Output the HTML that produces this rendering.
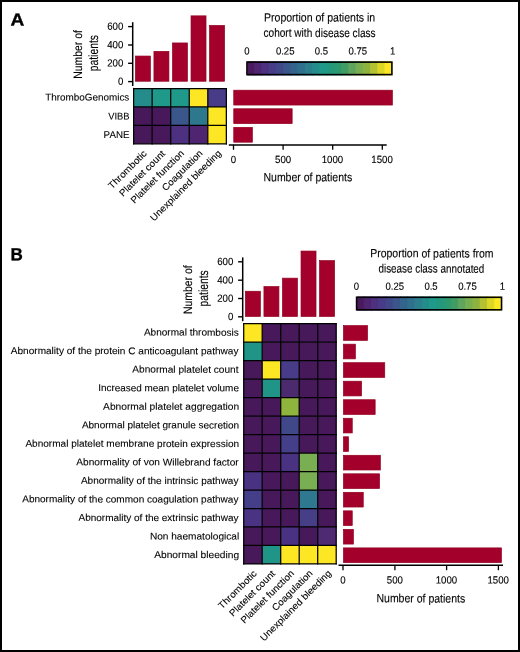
<!DOCTYPE html>
<html><head><meta charset="utf-8"><style>
html,body{margin:0;padding:0;background:#fff;}
body{width:520px;height:652px;overflow:hidden;}
.fig{position:relative;width:520px;height:652px;box-sizing:border-box;border:2px solid #000;background:#fff;}
svg{position:absolute;left:-2px;top:-2px;will-change:transform;}
text{text-rendering:geometricPrecision;font-family:"Liberation Sans",sans-serif;}
.lab{fill:#000;stroke:#000;stroke-width:0.1px;}
.num{fill:#000;stroke:#000;stroke-width:0.12px;}
.ttl{fill:#000;stroke:#000;stroke-width:0.12px;}
.pl{fill:#000;stroke:#000;stroke-width:0.35px;}
</style></head><body><div class="fig">
<svg width="520" height="652" viewBox="0 0 520 652">
<text transform="translate(10.42 25.4) rotate(0.1 6.88 0) scale(1.0855 1)" font-size="17.6" font-weight="bold" class="pl">A</text>
<text transform="translate(10.49 260.2) rotate(0.1 6.31 0) scale(0.9687 1)" font-size="17.6" font-weight="bold" class="pl">B</text>
<rect x="135.38" y="56.05" width="15" height="25.2" fill="#a3002c" stroke="#93001f" stroke-width="0.7"/>
<rect x="153.93" y="51.35" width="15" height="29.9" fill="#a3002c" stroke="#93001f" stroke-width="0.7"/>
<rect x="172.47" y="42.95" width="15" height="38.3" fill="#a3002c" stroke="#93001f" stroke-width="0.7"/>
<rect x="191.02" y="15.85" width="15" height="65.4" fill="#a3002c" stroke="#93001f" stroke-width="0.7"/>
<rect x="209.57" y="25.45" width="15" height="55.8" fill="#a3002c" stroke="#93001f" stroke-width="0.7"/>
<line x1="132.7" y1="22.2" x2="132.7" y2="86" stroke="#000" stroke-width="1.5"/>
<line x1="128.1" y1="26.6" x2="132.7" y2="26.6" stroke="#000" stroke-width="1.4"/>
<text transform="translate(107.23 29.85) rotate(0.1 8.12 0) scale(0.9300 1)" font-size="10.4" class="num">600</text>
<line x1="128.1" y1="45" x2="132.7" y2="45" stroke="#000" stroke-width="1.4"/>
<text transform="translate(107.23 48.25) rotate(0.1 7.98 0) scale(0.9300 1)" font-size="10.4" class="num">400</text>
<line x1="128.1" y1="63.3" x2="132.7" y2="63.3" stroke="#000" stroke-width="1.4"/>
<text transform="translate(107.23 66.55) rotate(0.1 8.12 0) scale(0.9300 1)" font-size="10.4" class="num">200</text>
<line x1="128.1" y1="81.6" x2="132.7" y2="81.6" stroke="#000" stroke-width="1.4"/>
<text transform="translate(117.97 84.85) rotate(0.1 2.71 0) scale(0.9300 1)" font-size="10.4" class="num">0</text>
<text transform="translate(82 77.9) rotate(-90) translate(-0.83 0) scale(0.8536 1)" font-size="12.2" class="ttl">Number of</text>
<text transform="translate(97.6 70.6) rotate(-90) translate(-0.67 0) scale(0.7715 1)" font-size="13.4" class="ttl">patients</text>
<rect x="133.6" y="88.5" width="18.55" height="18.43" fill="#248c8a"/>
<rect x="152.15" y="88.5" width="18.55" height="18.43" fill="#1f9a8a"/>
<rect x="170.7" y="88.5" width="18.55" height="18.43" fill="#1f9a8a"/>
<rect x="189.25" y="88.5" width="18.55" height="18.43" fill="#fde725"/>
<rect x="207.8" y="88.5" width="18.55" height="18.43" fill="#483c88"/>
<rect x="133.6" y="106.93" width="18.55" height="18.43" fill="#47195a"/>
<rect x="152.15" y="106.93" width="18.55" height="18.43" fill="#47195a"/>
<rect x="170.7" y="106.93" width="18.55" height="18.43" fill="#3a568b"/>
<rect x="189.25" y="106.93" width="18.55" height="18.43" fill="#2d788d"/>
<rect x="207.8" y="106.93" width="18.55" height="18.43" fill="#fde725"/>
<rect x="133.6" y="125.36" width="18.55" height="18.43" fill="#47195a"/>
<rect x="152.15" y="125.36" width="18.55" height="18.43" fill="#47195a"/>
<rect x="170.7" y="125.36" width="18.55" height="18.43" fill="#4e3080"/>
<rect x="189.25" y="125.36" width="18.55" height="18.43" fill="#4f2470"/>
<rect x="207.8" y="125.36" width="18.55" height="18.43" fill="#fde725"/>
<line x1="133.6" y1="87.88" x2="133.6" y2="144.41" stroke="#000" stroke-width="1.25"/>
<line x1="152.15" y1="87.88" x2="152.15" y2="144.41" stroke="#000" stroke-width="1.25"/>
<line x1="170.7" y1="87.88" x2="170.7" y2="144.41" stroke="#000" stroke-width="1.25"/>
<line x1="189.25" y1="87.88" x2="189.25" y2="144.41" stroke="#000" stroke-width="1.25"/>
<line x1="207.8" y1="87.88" x2="207.8" y2="144.41" stroke="#000" stroke-width="1.25"/>
<line x1="226.35" y1="87.88" x2="226.35" y2="144.41" stroke="#000" stroke-width="1.25"/>
<line x1="132.97" y1="88.5" x2="226.97" y2="88.5" stroke="#000" stroke-width="1.25"/>
<line x1="132.97" y1="106.93" x2="226.97" y2="106.93" stroke="#000" stroke-width="1.25"/>
<line x1="132.97" y1="125.36" x2="226.97" y2="125.36" stroke="#000" stroke-width="1.25"/>
<line x1="132.97" y1="143.79" x2="226.97" y2="143.79" stroke="#000" stroke-width="1.25"/>
<text transform="translate(45.2 100.5) rotate(0.1 42 0) scale(1.0095 1)" font-size="9.8" class="lab">ThromboGenomics</text>
<text transform="translate(108.15 119.4) rotate(0.1 10.45 0) scale(0.9561 1)" font-size="9.8" class="lab">VIBB</text>
<text transform="translate(103.62 138) rotate(0.1 13.08 0) scale(0.9941 1)" font-size="9.8" class="lab">PANE</text>
<text transform="translate(147.18 154.3) rotate(-45) translate(-49.63 0) scale(1.0500 1)" font-size="9.5" class="lab">Thrombotic</text>
<text transform="translate(165.73 154.3) rotate(-45) translate(-60.35 0) scale(1.0500 1)" font-size="9.5" class="lab">Platelet count</text>
<text transform="translate(184.28 154.3) rotate(-45) translate(-70.32 0) scale(1.0500 1)" font-size="9.5" class="lab">Platelet function</text>
<text transform="translate(202.82 154.3) rotate(-45) translate(-52.57 0) scale(1.0500 1)" font-size="9.5" class="lab">Coagulation</text>
<text transform="translate(221.38 154.3) rotate(-45) translate(-95.31 0) scale(1.0500 1)" font-size="9.5" class="lab">Unexplained bleeding</text>
<rect x="233.75" y="90.2" width="158.6" height="14.85" fill="#a3002c" stroke="#93001f" stroke-width="0.7"/>
<rect x="233.75" y="108.77" width="58.4" height="14.85" fill="#a3002c" stroke="#93001f" stroke-width="0.7"/>
<rect x="233.75" y="127.34" width="18.6" height="14.85" fill="#a3002c" stroke="#93001f" stroke-width="0.7"/>
<line x1="228.8" y1="144.95" x2="386.7" y2="144.95" stroke="#000" stroke-width="1.5"/>
<line x1="233.5" y1="144.9" x2="233.5" y2="149.8" stroke="#000" stroke-width="1.3"/>
<text transform="translate(230.79 162.95) rotate(0.1 2.71 0) scale(0.9300 1)" font-size="10.4" class="num">0</text>
<line x1="283.1" y1="144.9" x2="283.1" y2="149.8" stroke="#000" stroke-width="1.3"/>
<text transform="translate(275.02 162.95) rotate(0.1 8.08 0) scale(0.9300 1)" font-size="10.4" class="num">500</text>
<line x1="332.7" y1="144.9" x2="332.7" y2="149.8" stroke="#000" stroke-width="1.3"/>
<text transform="translate(321.75 162.95) rotate(0.1 10.95 0) scale(0.9300 1)" font-size="10.4" class="num">1000</text>
<line x1="382.3" y1="144.9" x2="382.3" y2="149.8" stroke="#000" stroke-width="1.3"/>
<text transform="translate(371.35 162.95) rotate(0.1 10.95 0) scale(0.9300 1)" font-size="10.4" class="num">1500</text>
<text transform="translate(263.46 181.3) rotate(0.1 44.59 0) scale(0.8748 1)" font-size="12" class="ttl">Number of patients</text>
<rect x="247.25" y="61.3" width="7.8" height="14.1" fill="#4b1a5e"/>
<rect x="254.05" y="61.3" width="8.25" height="14.1" fill="#4f2470"/>
<rect x="261.3" y="61.3" width="8.25" height="14.1" fill="#4e3080"/>
<rect x="268.55" y="61.3" width="8.25" height="14.1" fill="#483c88"/>
<rect x="275.8" y="61.3" width="8.25" height="14.1" fill="#41488a"/>
<rect x="283.05" y="61.3" width="8.25" height="14.1" fill="#3a568b"/>
<rect x="290.3" y="61.3" width="8.25" height="14.1" fill="#33648c"/>
<rect x="297.55" y="61.3" width="8.25" height="14.1" fill="#2e708e"/>
<rect x="304.8" y="61.3" width="8.25" height="14.1" fill="#2b7f8c"/>
<rect x="312.05" y="61.3" width="8.25" height="14.1" fill="#248c8a"/>
<rect x="319.3" y="61.3" width="8.25" height="14.1" fill="#1f9a8a"/>
<rect x="326.55" y="61.3" width="8.25" height="14.1" fill="#22997e"/>
<rect x="333.8" y="61.3" width="8.25" height="14.1" fill="#2b9a73"/>
<rect x="341.05" y="61.3" width="8.25" height="14.1" fill="#409c62"/>
<rect x="348.3" y="61.3" width="8.25" height="14.1" fill="#5fa55e"/>
<rect x="355.55" y="61.3" width="8.25" height="14.1" fill="#78ae52"/>
<rect x="362.8" y="61.3" width="8.25" height="14.1" fill="#8fb23e"/>
<rect x="370.05" y="61.3" width="8.25" height="14.1" fill="#b3c133"/>
<rect x="377.3" y="61.3" width="8.25" height="14.1" fill="#dcd625"/>
<rect x="384.55" y="61.3" width="7.05" height="14.1" fill="#fde725"/>
<rect x="246.95" y="62.1" width="144.95" height="12.5" fill="none" stroke="#000" stroke-width="1.6"/>
<text transform="translate(244.22 54.5) rotate(0.1 2.68 0) scale(0.9200 1)" font-size="10.4" class="num">0</text>
<text transform="translate(275.9 54.5) rotate(0.1 9.3 0) scale(0.9200 1)" font-size="10.4" class="num">0.25</text>
<text transform="translate(314.75 54.5) rotate(0.1 6.65 0) scale(0.9200 1)" font-size="10.4" class="num">0.5</text>
<text transform="translate(348.5 54.5) rotate(0.1 9.3 0) scale(0.9200 1)" font-size="10.4" class="num">0.75</text>
<text transform="translate(390 54.5) rotate(0.1 2.8 0) scale(0.9200 1)" font-size="10.4" class="num">1</text>
<text transform="translate(264.01 21.5) rotate(0.1 55.67 0) scale(0.8773 1)" font-size="12" class="ttl">Proportion of patients in</text>
<text transform="translate(263.5 36.9) rotate(0.1 56.05 0) scale(0.8401 1)" font-size="12" class="ttl">cohort with disease class</text>
<rect x="245.38" y="291.25" width="15" height="25.2" fill="#a3002c" stroke="#93001f" stroke-width="0.7"/>
<rect x="263.93" y="286.55" width="15" height="29.9" fill="#a3002c" stroke="#93001f" stroke-width="0.7"/>
<rect x="282.48" y="278.15" width="15" height="38.3" fill="#a3002c" stroke="#93001f" stroke-width="0.7"/>
<rect x="301.02" y="251.05" width="15" height="65.4" fill="#a3002c" stroke="#93001f" stroke-width="0.7"/>
<rect x="319.57" y="260.65" width="15" height="55.8" fill="#a3002c" stroke="#93001f" stroke-width="0.7"/>
<line x1="242.7" y1="257.4" x2="242.7" y2="321.2" stroke="#000" stroke-width="1.5"/>
<line x1="238.1" y1="261.8" x2="242.7" y2="261.8" stroke="#000" stroke-width="1.4"/>
<text transform="translate(217.23 265.05) rotate(0.1 8.12 0) scale(0.9300 1)" font-size="10.4" class="num">600</text>
<line x1="238.1" y1="280.2" x2="242.7" y2="280.2" stroke="#000" stroke-width="1.4"/>
<text transform="translate(217.23 283.45) rotate(0.1 7.98 0) scale(0.9300 1)" font-size="10.4" class="num">400</text>
<line x1="238.1" y1="298.5" x2="242.7" y2="298.5" stroke="#000" stroke-width="1.4"/>
<text transform="translate(217.23 301.75) rotate(0.1 8.12 0) scale(0.9300 1)" font-size="10.4" class="num">200</text>
<line x1="238.1" y1="316.8" x2="242.7" y2="316.8" stroke="#000" stroke-width="1.4"/>
<text transform="translate(227.97 320.05) rotate(0.1 2.71 0) scale(0.9300 1)" font-size="10.4" class="num">0</text>
<text transform="translate(192 313.1) rotate(-90) translate(-0.83 0) scale(0.8536 1)" font-size="12.2" class="ttl">Number of</text>
<text transform="translate(207.6 305.8) rotate(-90) translate(-0.67 0) scale(0.7715 1)" font-size="13.4" class="ttl">patients</text>
<rect x="243.7" y="323.7" width="18.5" height="18.48" fill="#fde725"/>
<rect x="262.2" y="323.7" width="18.5" height="18.48" fill="#47195a"/>
<rect x="280.7" y="323.7" width="18.5" height="18.48" fill="#47195a"/>
<rect x="299.2" y="323.7" width="18.5" height="18.48" fill="#47195a"/>
<rect x="317.7" y="323.7" width="18.5" height="18.48" fill="#47195a"/>
<rect x="243.7" y="342.18" width="18.5" height="18.48" fill="#1f9487"/>
<rect x="262.2" y="342.18" width="18.5" height="18.48" fill="#47195a"/>
<rect x="280.7" y="342.18" width="18.5" height="18.48" fill="#47195a"/>
<rect x="299.2" y="342.18" width="18.5" height="18.48" fill="#47195a"/>
<rect x="317.7" y="342.18" width="18.5" height="18.48" fill="#47195a"/>
<rect x="243.7" y="360.66" width="18.5" height="18.48" fill="#47195a"/>
<rect x="262.2" y="360.66" width="18.5" height="18.48" fill="#fde725"/>
<rect x="280.7" y="360.66" width="18.5" height="18.48" fill="#483c88"/>
<rect x="299.2" y="360.66" width="18.5" height="18.48" fill="#47195a"/>
<rect x="317.7" y="360.66" width="18.5" height="18.48" fill="#47195a"/>
<rect x="243.7" y="379.14" width="18.5" height="18.48" fill="#47195a"/>
<rect x="262.2" y="379.14" width="18.5" height="18.48" fill="#1f9487"/>
<rect x="280.7" y="379.14" width="18.5" height="18.48" fill="#4b2a6e"/>
<rect x="299.2" y="379.14" width="18.5" height="18.48" fill="#47195a"/>
<rect x="317.7" y="379.14" width="18.5" height="18.48" fill="#47195a"/>
<rect x="243.7" y="397.62" width="18.5" height="18.48" fill="#47195a"/>
<rect x="262.2" y="397.62" width="18.5" height="18.48" fill="#47195a"/>
<rect x="280.7" y="397.62" width="18.5" height="18.48" fill="#90b53e"/>
<rect x="299.2" y="397.62" width="18.5" height="18.48" fill="#47195a"/>
<rect x="317.7" y="397.62" width="18.5" height="18.48" fill="#47195a"/>
<rect x="243.7" y="416.1" width="18.5" height="18.48" fill="#47195a"/>
<rect x="262.2" y="416.1" width="18.5" height="18.48" fill="#47195a"/>
<rect x="280.7" y="416.1" width="18.5" height="18.48" fill="#41488a"/>
<rect x="299.2" y="416.1" width="18.5" height="18.48" fill="#47195a"/>
<rect x="317.7" y="416.1" width="18.5" height="18.48" fill="#47195a"/>
<rect x="243.7" y="434.58" width="18.5" height="18.48" fill="#47195a"/>
<rect x="262.2" y="434.58" width="18.5" height="18.48" fill="#47195a"/>
<rect x="280.7" y="434.58" width="18.5" height="18.48" fill="#453e88"/>
<rect x="299.2" y="434.58" width="18.5" height="18.48" fill="#47195a"/>
<rect x="317.7" y="434.58" width="18.5" height="18.48" fill="#47195a"/>
<rect x="243.7" y="453.06" width="18.5" height="18.48" fill="#47195a"/>
<rect x="262.2" y="453.06" width="18.5" height="18.48" fill="#47195a"/>
<rect x="280.7" y="453.06" width="18.5" height="18.48" fill="#4a3282"/>
<rect x="299.2" y="453.06" width="18.5" height="18.48" fill="#79af52"/>
<rect x="317.7" y="453.06" width="18.5" height="18.48" fill="#47195a"/>
<rect x="243.7" y="471.54" width="18.5" height="18.48" fill="#4a3282"/>
<rect x="262.2" y="471.54" width="18.5" height="18.48" fill="#47195a"/>
<rect x="280.7" y="471.54" width="18.5" height="18.48" fill="#47195a"/>
<rect x="299.2" y="471.54" width="18.5" height="18.48" fill="#79af52"/>
<rect x="317.7" y="471.54" width="18.5" height="18.48" fill="#47195a"/>
<rect x="243.7" y="490.02" width="18.5" height="18.48" fill="#453e88"/>
<rect x="262.2" y="490.02" width="18.5" height="18.48" fill="#47195a"/>
<rect x="280.7" y="490.02" width="18.5" height="18.48" fill="#47195a"/>
<rect x="299.2" y="490.02" width="18.5" height="18.48" fill="#2e7890"/>
<rect x="317.7" y="490.02" width="18.5" height="18.48" fill="#47195a"/>
<rect x="243.7" y="508.5" width="18.5" height="18.48" fill="#4b3384"/>
<rect x="262.2" y="508.5" width="18.5" height="18.48" fill="#47195a"/>
<rect x="280.7" y="508.5" width="18.5" height="18.48" fill="#47195a"/>
<rect x="299.2" y="508.5" width="18.5" height="18.48" fill="#473e88"/>
<rect x="317.7" y="508.5" width="18.5" height="18.48" fill="#47195a"/>
<rect x="243.7" y="526.98" width="18.5" height="18.48" fill="#47195a"/>
<rect x="262.2" y="526.98" width="18.5" height="18.48" fill="#47195a"/>
<rect x="280.7" y="526.98" width="18.5" height="18.48" fill="#4a3282"/>
<rect x="299.2" y="526.98" width="18.5" height="18.48" fill="#47195a"/>
<rect x="317.7" y="526.98" width="18.5" height="18.48" fill="#4d2a72"/>
<rect x="243.7" y="545.46" width="18.5" height="18.48" fill="#47195a"/>
<rect x="262.2" y="545.46" width="18.5" height="18.48" fill="#1f9487"/>
<rect x="280.7" y="545.46" width="18.5" height="18.48" fill="#fde725"/>
<rect x="299.2" y="545.46" width="18.5" height="18.48" fill="#fde725"/>
<rect x="317.7" y="545.46" width="18.5" height="18.48" fill="#fde725"/>
<line x1="243.7" y1="323.07" x2="243.7" y2="564.57" stroke="#000" stroke-width="1.25"/>
<line x1="262.2" y1="323.07" x2="262.2" y2="564.57" stroke="#000" stroke-width="1.25"/>
<line x1="280.7" y1="323.07" x2="280.7" y2="564.57" stroke="#000" stroke-width="1.25"/>
<line x1="299.2" y1="323.07" x2="299.2" y2="564.57" stroke="#000" stroke-width="1.25"/>
<line x1="317.7" y1="323.07" x2="317.7" y2="564.57" stroke="#000" stroke-width="1.25"/>
<line x1="336.2" y1="323.07" x2="336.2" y2="564.57" stroke="#000" stroke-width="1.25"/>
<line x1="243.07" y1="323.7" x2="336.82" y2="323.7" stroke="#000" stroke-width="1.25"/>
<line x1="243.07" y1="342.18" x2="336.82" y2="342.18" stroke="#000" stroke-width="1.25"/>
<line x1="243.07" y1="360.66" x2="336.82" y2="360.66" stroke="#000" stroke-width="1.25"/>
<line x1="243.07" y1="379.14" x2="336.82" y2="379.14" stroke="#000" stroke-width="1.25"/>
<line x1="243.07" y1="397.62" x2="336.82" y2="397.62" stroke="#000" stroke-width="1.25"/>
<line x1="243.07" y1="416.1" x2="336.82" y2="416.1" stroke="#000" stroke-width="1.25"/>
<line x1="243.07" y1="434.58" x2="336.82" y2="434.58" stroke="#000" stroke-width="1.25"/>
<line x1="243.07" y1="453.06" x2="336.82" y2="453.06" stroke="#000" stroke-width="1.25"/>
<line x1="243.07" y1="471.54" x2="336.82" y2="471.54" stroke="#000" stroke-width="1.25"/>
<line x1="243.07" y1="490.02" x2="336.82" y2="490.02" stroke="#000" stroke-width="1.25"/>
<line x1="243.07" y1="508.5" x2="336.82" y2="508.5" stroke="#000" stroke-width="1.25"/>
<line x1="243.07" y1="526.98" x2="336.82" y2="526.98" stroke="#000" stroke-width="1.25"/>
<line x1="243.07" y1="545.46" x2="336.82" y2="545.46" stroke="#000" stroke-width="1.25"/>
<line x1="243.07" y1="563.94" x2="336.82" y2="563.94" stroke="#000" stroke-width="1.25"/>
<text transform="translate(143.9 335.6) rotate(0.1 47.3 0) scale(1.0253 1)" font-size="9.8" class="lab">Abnormal thrombosis</text>
<text transform="translate(10.8 354.14) rotate(0.1 113.85 0) scale(1.0269 1)" font-size="9.8" class="lab">Abnormality of the protein C anticoagulant pathway</text>
<text transform="translate(132.3 372.68) rotate(0.1 53.1 0) scale(1.0321 1)" font-size="9.8" class="lab">Abnormal platelet count</text>
<text transform="translate(98.21 391.22) rotate(0.1 70.59 0) scale(1.0131 1)" font-size="9.8" class="lab">Increased mean platelet volume</text>
<text transform="translate(103.1 409.76) rotate(0.1 67.7 0) scale(1.0408 1)" font-size="9.8" class="lab">Abnormal platelet aggregation</text>
<text transform="translate(81.9 428.3) rotate(0.1 78.3 0) scale(1.0201 1)" font-size="9.8" class="lab">Abnormal platelet granule secretion</text>
<text transform="translate(25.4 446.84) rotate(0.1 106.55 0) scale(1.0245 1)" font-size="9.8" class="lab">Abnormal platelet membrane protein expression</text>
<text transform="translate(76.3 465.38) rotate(0.1 81.1 0) scale(1.0315 1)" font-size="9.8" class="lab">Abnormality of von Willebrand factor</text>
<text transform="translate(80.9 483.92) rotate(0.1 78.8 0) scale(1.0224 1)" font-size="9.8" class="lab">Abnormality of the intrinsic pathway</text>
<text transform="translate(22.2 502.46) rotate(0.1 108.15 0) scale(1.0232 1)" font-size="9.8" class="lab">Abnormality of the common coagulation pathway</text>
<text transform="translate(78.5 521) rotate(0.1 80 0) scale(1.0198 1)" font-size="9.8" class="lab">Abnormality of the extrinsic pathway</text>
<text transform="translate(149.89 539.54) rotate(0.1 44.71 0) scale(1.0310 1)" font-size="9.8" class="lab">Non haematological</text>
<text transform="translate(154.2 558.08) rotate(0.1 42.15 0) scale(1.0395 1)" font-size="9.8" class="lab">Abnormal bleeding</text>
<text transform="translate(257.18 574.3) rotate(-45) translate(-49.63 0) scale(1.0500 1)" font-size="9.5" class="lab">Thrombotic</text>
<text transform="translate(275.73 574.3) rotate(-45) translate(-60.35 0) scale(1.0500 1)" font-size="9.5" class="lab">Platelet count</text>
<text transform="translate(294.28 574.3) rotate(-45) translate(-70.32 0) scale(1.0500 1)" font-size="9.5" class="lab">Platelet function</text>
<text transform="translate(312.82 574.3) rotate(-45) translate(-52.57 0) scale(1.0500 1)" font-size="9.5" class="lab">Coagulation</text>
<text transform="translate(331.38 574.3) rotate(-45) translate(-95.31 0) scale(1.0500 1)" font-size="9.5" class="lab">Unexplained bleeding</text>
<rect x="343.45" y="325.65" width="24.1" height="14.7" fill="#a3002c" stroke="#93001f" stroke-width="0.7"/>
<rect x="343.45" y="344.17" width="11.9" height="14.7" fill="#a3002c" stroke="#93001f" stroke-width="0.7"/>
<rect x="343.45" y="362.69" width="41.3" height="14.7" fill="#a3002c" stroke="#93001f" stroke-width="0.7"/>
<rect x="343.45" y="381.21" width="18.1" height="14.7" fill="#a3002c" stroke="#93001f" stroke-width="0.7"/>
<rect x="343.45" y="399.73" width="31.7" height="14.7" fill="#a3002c" stroke="#93001f" stroke-width="0.7"/>
<rect x="343.45" y="418.25" width="8.8" height="14.7" fill="#a3002c" stroke="#93001f" stroke-width="0.7"/>
<rect x="343.45" y="436.77" width="5.1" height="14.7" fill="#a3002c" stroke="#93001f" stroke-width="0.7"/>
<rect x="343.45" y="455.29" width="36.9" height="14.7" fill="#a3002c" stroke="#93001f" stroke-width="0.7"/>
<rect x="343.45" y="473.81" width="36.1" height="14.7" fill="#a3002c" stroke="#93001f" stroke-width="0.7"/>
<rect x="343.45" y="492.33" width="19.8" height="14.7" fill="#a3002c" stroke="#93001f" stroke-width="0.7"/>
<rect x="343.45" y="510.85" width="8.8" height="14.7" fill="#a3002c" stroke="#93001f" stroke-width="0.7"/>
<rect x="343.45" y="529.37" width="9.9" height="14.7" fill="#a3002c" stroke="#93001f" stroke-width="0.7"/>
<rect x="343.45" y="547.89" width="158" height="14.7" fill="#a3002c" stroke="#93001f" stroke-width="0.7"/>
<line x1="338.5" y1="565.2" x2="503" y2="565.2" stroke="#000" stroke-width="1.5"/>
<line x1="343" y1="565.2" x2="343" y2="570.2" stroke="#000" stroke-width="1.3"/>
<text transform="translate(340.29 583.5) rotate(0.1 2.71 0) scale(0.9300 1)" font-size="10.4" class="num">0</text>
<line x1="394.9" y1="565.2" x2="394.9" y2="570.2" stroke="#000" stroke-width="1.3"/>
<text transform="translate(386.82 583.5) rotate(0.1 8.08 0) scale(0.9300 1)" font-size="10.4" class="num">500</text>
<line x1="446.6" y1="565.2" x2="446.6" y2="570.2" stroke="#000" stroke-width="1.3"/>
<text transform="translate(435.65 583.5) rotate(0.1 10.95 0) scale(0.9300 1)" font-size="10.4" class="num">1000</text>
<line x1="498.4" y1="565.2" x2="498.4" y2="570.2" stroke="#000" stroke-width="1.3"/>
<text transform="translate(487.45 583.5) rotate(0.1 10.95 0) scale(0.9300 1)" font-size="10.4" class="num">1500</text>
<text transform="translate(376.46 602.4) rotate(0.1 44.59 0) scale(0.8748 1)" font-size="12" class="ttl">Number of patients</text>
<rect x="356.9" y="296.5" width="7.8" height="14.1" fill="#4b1a5e"/>
<rect x="363.7" y="296.5" width="8.25" height="14.1" fill="#4f2470"/>
<rect x="370.95" y="296.5" width="8.25" height="14.1" fill="#4e3080"/>
<rect x="378.2" y="296.5" width="8.25" height="14.1" fill="#483c88"/>
<rect x="385.45" y="296.5" width="8.25" height="14.1" fill="#41488a"/>
<rect x="392.7" y="296.5" width="8.25" height="14.1" fill="#3a568b"/>
<rect x="399.95" y="296.5" width="8.25" height="14.1" fill="#33648c"/>
<rect x="407.2" y="296.5" width="8.25" height="14.1" fill="#2e708e"/>
<rect x="414.45" y="296.5" width="8.25" height="14.1" fill="#2b7f8c"/>
<rect x="421.7" y="296.5" width="8.25" height="14.1" fill="#248c8a"/>
<rect x="428.95" y="296.5" width="8.25" height="14.1" fill="#1f9a8a"/>
<rect x="436.2" y="296.5" width="8.25" height="14.1" fill="#22997e"/>
<rect x="443.45" y="296.5" width="8.25" height="14.1" fill="#2b9a73"/>
<rect x="450.7" y="296.5" width="8.25" height="14.1" fill="#409c62"/>
<rect x="457.95" y="296.5" width="8.25" height="14.1" fill="#5fa55e"/>
<rect x="465.2" y="296.5" width="8.25" height="14.1" fill="#78ae52"/>
<rect x="472.45" y="296.5" width="8.25" height="14.1" fill="#8fb23e"/>
<rect x="479.7" y="296.5" width="8.25" height="14.1" fill="#b3c133"/>
<rect x="486.95" y="296.5" width="8.25" height="14.1" fill="#dcd625"/>
<rect x="494.2" y="296.5" width="7.05" height="14.1" fill="#fde725"/>
<rect x="356.6" y="297.3" width="144.95" height="12.5" fill="none" stroke="#000" stroke-width="1.6"/>
<text transform="translate(353.87 289.7) rotate(0.1 2.68 0) scale(0.9200 1)" font-size="10.4" class="num">0</text>
<text transform="translate(385.55 289.7) rotate(0.1 9.3 0) scale(0.9200 1)" font-size="10.4" class="num">0.25</text>
<text transform="translate(424.4 289.7) rotate(0.1 6.65 0) scale(0.9200 1)" font-size="10.4" class="num">0.5</text>
<text transform="translate(458.15 289.7) rotate(0.1 9.3 0) scale(0.9200 1)" font-size="10.4" class="num">0.75</text>
<text transform="translate(499.65 289.7) rotate(0.1 2.8 0) scale(0.9200 1)" font-size="10.4" class="num">1</text>
<text transform="translate(370.21 257.4) rotate(0.1 61.76 0) scale(0.8724 1)" font-size="12" class="ttl">Proportion of patients from</text>
<text transform="translate(378.51 272.6) rotate(0.1 52.79 0) scale(0.8220 1)" font-size="12" class="ttl">disease class annotated</text>
</svg></div></body></html>
